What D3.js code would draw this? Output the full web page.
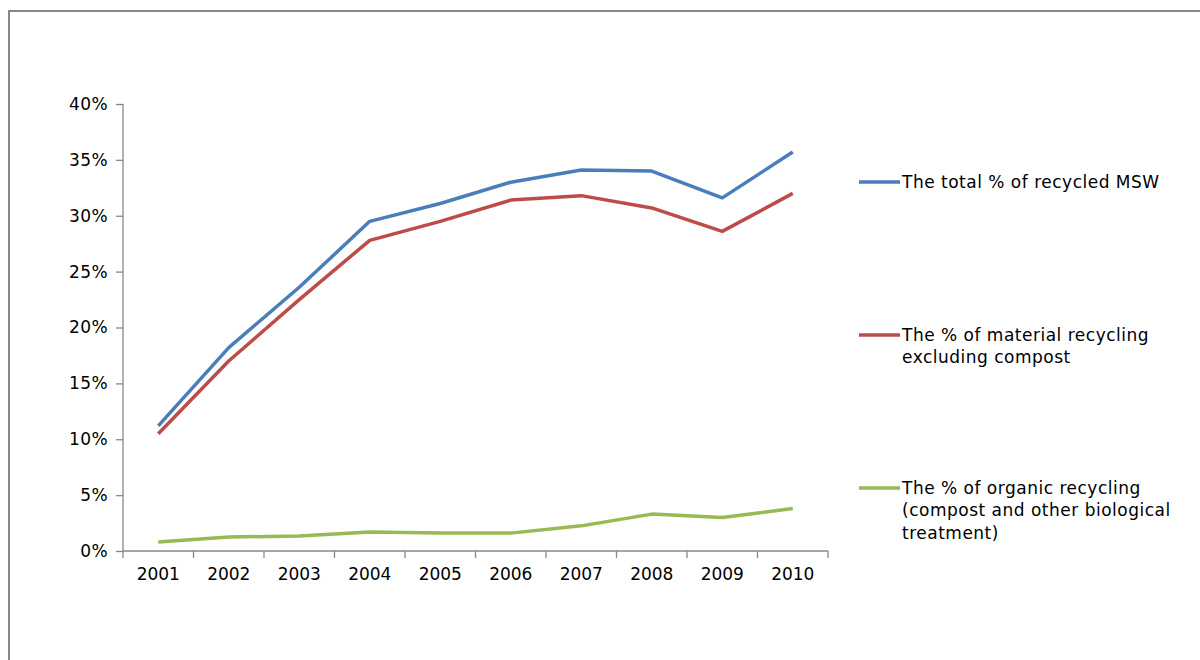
<!DOCTYPE html>
<html><head><meta charset="utf-8">
<script src="https://cdn.jsdelivr.net/npm/d3@7"></script>
<style>body{margin:0;background:#fff;} svg{display:block;}</style>
</head><body>
<svg id="chart" width="1200" height="660"></svg>
<script>
const years = ["2001","2002","2003","2004","2005","2006","2007","2008","2009","2010"];
const totalRecycled = [11.2, 18.2, 23.6, 29.5, 31.1, 33.0, 34.1, 34.0, 31.6, 35.7];
const materialRecycling = [10.5, 17.0, 22.5, 27.8, 29.5, 31.4, 31.8, 30.7, 28.6, 32.0];
const organicRecycling = [0.8, 1.25, 1.35, 1.7, 1.6, 1.6, 2.25, 3.3, 3.0, 3.8];
const yTicks = [0, 5, 10, 15, 20, 25, 30, 35, 40];
const seriesNames = [
  ["The total % of recycled MSW"],
  ["The % of material recycling", "excluding compost"],
  ["The % of organic recycling", "(compost and other biological", "treatment)"]
];
const colors = ["#4A7EBB", "#BE4B48", "#98B954"];

(function () {
const svg = d3.select("#chart");
const font = "DejaVu Sans, Verdana, sans-serif";
svg.append("rect").attr("x", 9).attr("y", 11).attr("width", 1300).attr("height", 700)
  .attr("fill", "none").attr("stroke", "#888").attr("stroke-width", 2);

const pLeft = 123, pRight = 828, pTop = 104, pBottom = 551;
const x = d3.scaleBand().domain(years).range([pLeft, pRight]);
const y = d3.scaleLinear().domain([0, 40]).range([pBottom, pTop]);

const yAxis = svg.append("g").attr("transform", `translate(${pLeft},0)`)
  .call(d3.axisLeft(y).tickValues(yTicks).tickFormat(d => d + "%").tickSize(7).tickPadding(8));
const xAxis = svg.append("g").attr("transform", `translate(0,${pBottom})`)
  .call(d3.axisBottom(x).tickSize(0).tickPadding(17));
const bounds = years.map(d => x(d)).concat([pRight]);
xAxis.selectAll("line.bnd").data(bounds).enter().append("line").attr("class", "bnd")
  .attr("x1", d => d).attr("x2", d => d).attr("y1", 0).attr("y2", 7);
[yAxis, xAxis].forEach(g => {
  g.select(".domain").attr("stroke", "#888").attr("stroke-width", 1.3);
  g.selectAll("line").attr("stroke", "#888").attr("stroke-width", 1.3);
  g.selectAll("text").attr("font-family", font).attr("font-size", 17).attr("fill", "#000");
});
yAxis.selectAll("text").attr("letter-spacing", 0.4);
xAxis.select(".domain").attr("d", `M${pLeft},0H${pRight}`);
yAxis.select(".domain").attr("d", `M0,${pTop}V${pBottom}`);

const data = [totalRecycled, materialRecycling, organicRecycling];
const line = d3.line().x((d, i) => x(years[i]) + x.bandwidth() / 2).y(d => y(d));
data.forEach((s, i) => {
  svg.append("path").datum(s).attr("d", line).attr("fill", "none")
    .attr("stroke", colors[i]).attr("stroke-width", 3.5).attr("stroke-linejoin", "round");
});

const legendY = [182, 335, 488];
seriesNames.forEach((lines, i) => {
  const g = svg.append("g").attr("transform", `translate(859,${legendY[i]})`);
  g.append("line").attr("x1", 0).attr("x2", 41).attr("y1", 0).attr("y2", 0)
    .attr("stroke", colors[i]).attr("stroke-width", 3.5);
  lines.forEach((t, j) => {
    g.append("text").attr("x", 43).attr("y", j * 22.5).attr("dy", "0.35em")
      .attr("font-family", font).attr("font-size", 17).attr("letter-spacing", 0.5)
      .attr("fill", "#000").text(t);
  });
});
})();
</script>
</body></html>
